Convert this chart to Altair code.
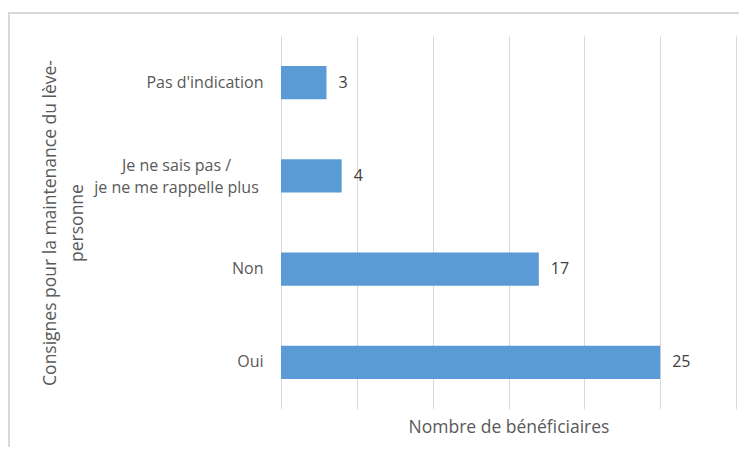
import altair as alt
import pandas as pd

# ---- data ----
categories = ["Pas d'indication", "Je ne sais pas /\nje ne me rappelle plus", "Non", "Oui"]
values = [3, 4, 17, 25]
x_ticks = [0, 5, 10, 15, 20, 25, 30]
x_title = "Nombre de bénéficiaires"
y_title = ["Consignes pour la maintenance du lève-", "personne"]

df = pd.DataFrame({"cat": categories, "n": values})

W, H = 455, 373
PAD_L, PAD_T, PAD_R, PAD_B = 273, 28, 3, 38
FONT = "Open Sans"
GRID = "#d9d9d9"
LABEL = "#595959"
BAR = "#5b9bd5"

multi = "indexof(datum.value, '\\n') >= 0"

y_enc = alt.Y(
    "cat:N",
    sort=categories,
    scale=alt.Scale(paddingInner=0.645, paddingOuter=0.3225),
    axis=alt.Axis(
        title=y_title,
        titleFont=FONT,
        titleFontSize=17.5,
        titleFontWeight="normal",
        titleColor=LABEL,
        titleAngle=270,
        titleAlign="center",
        titleBaseline="middle",
        titleLineHeight=27,
        titleX=-231,
        titleY=H / 2,
        labelExpr="split(datum.label, '\\n')",
        labelAlign={"condition": {"test": multi, "value": "center"}, "value": "right"},
        labelPadding={"condition": {"test": multi, "value": 105}, "value": 18},
        labelOffset={"condition": {"test": multi, "value": -10}, "value": 0},
        labelBaseline="middle",
        labelLineHeight=22,
        labelFont=FONT,
        labelFontSize=16,
        labelColor=LABEL,
        labelLimit=400,
        ticks=False,
        tickSize=0,
        domain=False,
        grid=False,
    ),
)

x_enc = alt.X(
    "n:Q",
    scale=alt.Scale(domain=[x_ticks[0], x_ticks[-1]], nice=False, zero=True),
    axis=alt.Axis(
        title=x_title,
        titleFont=FONT,
        titleFontSize=17.5,
        titleFontWeight="normal",
        titleColor=LABEL,
        titleX=W / 2,
        titleY=23,
        titleAlign="center",
        titleBaseline="alphabetic",
        values=x_ticks,
        labels=False,
        ticks=False,
        domain=False,
        grid=True,
        gridColor=GRID,
        gridWidth=1,
    ),
)

base = alt.Chart(df)

bars = base.mark_bar(color=BAR).encode(y=y_enc, x=x_enc)

labels = base.mark_text(
    align="left", baseline="middle", dx=12, font=FONT, fontSize=16, color="#404040"
).encode(y=alt.Y("cat:N", sort=categories), x=alt.X("n:Q"), text=alt.Text("n:Q"))

frame_data = alt.Data(values=[{"k": 0}])
frame_top = alt.Chart(frame_data).mark_rule(color=GRID, strokeWidth=2).encode(
    x=alt.value(-PAD_L), x2=alt.value(W + PAD_R), y=alt.value(-PAD_T + 5)
)
frame_left = alt.Chart(frame_data).mark_rule(color=GRID, strokeWidth=2).encode(
    x=alt.value(-PAD_L + 1), y=alt.value(-PAD_T + 5), y2=alt.value(H + PAD_B)
)

chart = (
    alt.layer(bars, labels, frame_top, frame_left)
    .properties(
        width=W,
        height=H,
        autosize=alt.AutoSizeParams(type="none"),
        padding={"left": PAD_L, "top": PAD_T, "right": PAD_R, "bottom": PAD_B},
        background="white",
    )
    .configure_view(stroke=None)
)

chart.save("out.html", embed_options={"renderer": "svg", "actions": False})
